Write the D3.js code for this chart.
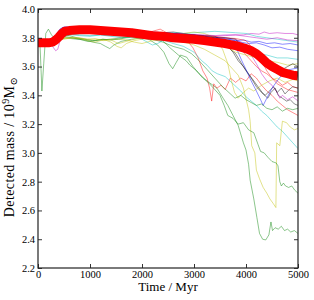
<!DOCTYPE html>
<html>
<head>
<meta charset="utf-8">
<script src="https://cdn.jsdelivr.net/npm/d3@7"></script>
<style>
  body { margin: 0; background: #fff; }
  text { font-family: "Liberation Serif", "DejaVu Serif", serif; fill: #000; }
</style>
</head>
<body>
<svg id="chart" width="314" height="300"></svg>
<script>
// tick labels
var xTicks = [0, 1000, 2000, 3000, 4000, 5000];
var yTicks = [2.2, 2.4, 2.6, 2.8, 3.0, 3.2, 3.4, 3.6, 3.8, 4.0];

// one run per galaxy: [time in Myr, detected mass in 1e9 Msun]
var run01 = [[0,3.77],[80,3.76],[160,3.775],[260,3.77],[340,3.80],[420,3.86],[500,3.875],[650,3.87],[800,3.865],[1000,3.86],[1200,3.86],[1400,3.855],[1600,3.85],[1800,3.845],[2000,3.84],[2200,3.835],[2400,3.83],[2600,3.825],[2800,3.82],[3000,3.815],[3200,3.80],[3400,3.805],[3600,3.795],[3800,3.78],[3950,3.785],[4100,3.77],[4250,3.775],[4400,3.76],[4550,3.765],[4700,3.755],[4850,3.76],[5000,3.75]];
var run02 = [[0,3.77],[40,3.74],[75,3.43],[110,3.62],[150,3.83],[200,3.86],[260,3.82],[330,3.79],[420,3.785],[520,3.80],[620,3.795],[750,3.79],[900,3.785],[1050,3.77],[1200,3.76],[1300,3.74],[1380,3.725],[1460,3.75],[1600,3.775],[1800,3.79],[2000,3.80],[2150,3.785],[2300,3.75],[2420,3.70],[2520,3.62],[2590,3.585],[2660,3.63],[2740,3.68],[2860,3.665],[2980,3.60],[3100,3.55],[3250,3.50],[3440,3.45],[3560,3.38],[3650,3.33],[3750,3.26],[3850,3.19],[3950,3.07],[4000,3.02],[4050,2.92],[4080,2.81],[4150,2.68],[4210,2.55],[4260,2.44],[4320,2.40],[4380,2.395],[4440,2.43],[4480,2.52],[4510,2.46],[4560,2.48],[4620,2.47],[4680,2.49],[4740,2.46],[4800,2.47],[4860,2.45],[4930,2.46],[5000,2.44]];
var run03 = [[0,3.775],[100,3.77],[200,3.765],[300,3.78],[400,3.83],[480,3.865],[600,3.87],[800,3.865],[1000,3.86],[1200,3.855],[1400,3.86],[1600,3.85],[1800,3.845],[2000,3.84],[2200,3.845],[2350,3.86],[2500,3.83],[2700,3.82],[2850,3.79],[2980,3.73],[3080,3.66],[3170,3.57],[3250,3.52],[3300,3.45],[3340,3.36],[3380,3.48],[3440,3.45],[3520,3.47],[3600,3.44],[3700,3.52],[3800,3.49],[3900,3.52],[4000,3.50],[4100,3.55],[4200,3.52],[4300,3.47],[4400,3.43],[4500,3.40],[4600,3.36],[4700,3.33],[4800,3.30],[4900,3.28],[5000,3.26]];
var run04 = [[0,3.77],[100,3.76],[200,3.775],[300,3.78],[400,3.80],[500,3.815],[650,3.82],[800,3.815],[1000,3.81],[1200,3.82],[1400,3.81],[1600,3.80],[1800,3.805],[2000,3.80],[2200,3.79],[2400,3.785],[2600,3.76],[2800,3.74],[3000,3.70],[3150,3.64],[3250,3.61],[3350,3.57],[3450,3.55],[3600,3.53],[3750,3.48],[3900,3.43],[4000,3.39],[4100,3.36],[4200,3.33],[4300,3.29],[4400,3.26],[4500,3.22],[4600,3.18],[4700,3.15],[4800,3.11],[4900,3.07],[5000,3.03]];
var run05 = [[0,3.77],[100,3.77],[200,3.765],[280,3.74],[340,3.71],[380,3.72],[440,3.80],[520,3.86],[650,3.865],[800,3.86],[1000,3.86],[1200,3.855],[1400,3.85],[1600,3.85],[1800,3.845],[2000,3.84],[2200,3.835],[2400,3.83],[2600,3.83],[2800,3.825],[3000,3.82],[3200,3.815],[3400,3.81],[3600,3.815],[3800,3.82],[3950,3.82],[4100,3.83],[4250,3.825],[4350,3.84],[4450,3.83],[4600,3.835],[4750,3.83],[4900,3.83],[5000,3.82]];
var run06 = [[0,3.77],[100,3.77],[200,3.775],[300,3.78],[400,3.79],[500,3.80],[650,3.80],[800,3.795],[950,3.79],[1100,3.785],[1250,3.79],[1400,3.77],[1520,3.74],[1600,3.73],[1700,3.76],[1850,3.78],[2000,3.79],[2200,3.80],[2400,3.80],[2600,3.79],[2800,3.77],[3000,3.75],[3200,3.72],[3400,3.68],[3600,3.64],[3750,3.58],[3850,3.54],[3950,3.45],[4050,3.30],[4080,3.22],[4110,3.05],[4170,3.00],[4200,2.88],[4260,2.82],[4330,2.76],[4400,2.72],[4460,2.68],[4520,2.65],[4575,2.62],[4590,3.07],[4650,3.05],[4700,3.22],[4780,3.21],[4850,3.18],[4930,3.16],[5000,3.17]];
var run07 = [[0,3.77],[100,3.765],[200,3.77],[300,3.775],[400,3.82],[500,3.855],[650,3.86],[800,3.86],[1000,3.855],[1200,3.85],[1400,3.85],[1600,3.845],[1800,3.84],[2000,3.835],[2200,3.83],[2400,3.835],[2600,3.84],[2800,3.83],[3000,3.82],[3200,3.80],[3400,3.79],[3600,3.76],[3750,3.70],[3850,3.64],[3950,3.60],[4050,3.55],[4150,3.50],[4250,3.45],[4330,3.41],[4420,3.38],[4480,3.42],[4560,3.45],[4620,3.40],[4700,3.38],[4780,3.36],[4850,3.37],[4930,3.34],[5000,3.33]];
var run08 = [[0,3.765],[100,3.77],[200,3.77],[300,3.78],[380,3.84],[460,3.87],[560,3.875],[700,3.87],[900,3.865],[1100,3.86],[1300,3.855],[1500,3.85],[1700,3.845],[1900,3.84],[2100,3.835],[2300,3.83],[2500,3.83],[2700,3.82],[2900,3.815],[3100,3.81],[3300,3.80],[3500,3.79],[3700,3.785],[3900,3.77],[4050,3.76],[4200,3.765],[4350,3.75],[4500,3.73],[4650,3.735],[4800,3.72],[4900,3.715],[5000,3.71]];
var run09 = [[0,3.775],[100,3.77],[200,3.78],[300,3.79],[400,3.80],[500,3.82],[600,3.815],[750,3.80],[900,3.79],[1050,3.78],[1200,3.785],[1400,3.79],[1600,3.80],[1800,3.81],[2000,3.81],[2200,3.80],[2400,3.78],[2540,3.73],[2700,3.68],[2850,3.64],[2920,3.61],[3050,3.57],[3170,3.52],[3300,3.48],[3400,3.44],[3500,3.40],[3580,3.33],[3650,3.26],[3750,3.24],[3850,3.20],[3950,3.21],[4050,3.16],[4150,3.14],[4230,3.06],[4280,3.01],[4350,3.00],[4420,2.97],[4500,2.94],[4580,2.93],[4615,2.91],[4650,2.80],[4680,2.77],[4720,2.79],[4760,2.77],[4820,2.76],[4880,2.77],[4940,2.74],[5000,2.72]];
var run10 = [[0,3.77],[100,3.775],[200,3.77],[300,3.77],[400,3.80],[500,3.85],[600,3.86],[800,3.865],[1000,3.86],[1200,3.86],[1400,3.855],[1600,3.85],[1800,3.85],[2000,3.845],[2200,3.84],[2400,3.835],[2600,3.83],[2800,3.82],[3000,3.81],[3200,3.80],[3400,3.79],[3600,3.78],[3750,3.76],[3900,3.72],[4000,3.68],[4100,3.64],[4200,3.60],[4300,3.57],[4400,3.55],[4500,3.52],[4600,3.50],[4700,3.47],[4800,3.49],[4900,3.46],[5000,3.45]];
var run11 = [[0,3.77],[100,3.77],[200,3.77],[300,3.78],[400,3.81],[500,3.84],[600,3.845],[800,3.84],[1000,3.845],[1200,3.84],[1400,3.835],[1600,3.84],[1800,3.835],[2000,3.83],[2200,3.825],[2400,3.83],[2600,3.835],[2800,3.83],[3000,3.835],[3200,3.84],[3400,3.845],[3600,3.84],[3800,3.835],[4000,3.83],[4200,3.81],[4400,3.80],[4600,3.79],[4800,3.78],[5000,3.77]];
var run12 = [[0,3.775],[100,3.77],[200,3.77],[300,3.775],[400,3.81],[500,3.855],[650,3.86],[800,3.865],[1000,3.86],[1200,3.855],[1400,3.85],[1600,3.85],[1800,3.845],[2000,3.84],[2200,3.835],[2400,3.83],[2600,3.83],[2800,3.82],[3000,3.815],[3200,3.81],[3400,3.80],[3600,3.80],[3800,3.79],[3900,3.77],[4000,3.73],[4100,3.68],[4200,3.62],[4300,3.55],[4400,3.50],[4500,3.47],[4600,3.42],[4650,3.38],[4700,3.40],[4800,3.37],[4900,3.39],[5000,3.36]];
var run13 = [[0,3.77],[100,3.77],[200,3.78],[300,3.785],[400,3.79],[500,3.79],[650,3.80],[800,3.795],[950,3.78],[1100,3.77],[1250,3.785],[1400,3.79],[1550,3.79],[1700,3.785],[1850,3.77],[2000,3.76],[2200,3.78],[2400,3.79],[2600,3.81],[2800,3.83],[3000,3.84],[3200,3.83],[3400,3.80],[3550,3.72],[3650,3.62],[3720,3.50],[3780,3.42],[3850,3.38],[3950,3.42],[4050,3.45],[4150,3.43],[4300,3.47],[4450,3.50],[4600,3.52],[4750,3.49],[4900,3.51],[5000,3.50]];
var run14 = [[0,3.77],[100,3.77],[200,3.775],[300,3.78],[400,3.82],[500,3.86],[650,3.865],[800,3.86],[1000,3.86],[1200,3.855],[1400,3.85],[1600,3.845],[1800,3.84],[2000,3.835],[2200,3.83],[2400,3.83],[2600,3.83],[2800,3.825],[3000,3.82],[3200,3.815],[3400,3.81],[3500,3.79],[3600,3.76],[3700,3.72],[3800,3.69],[3900,3.63],[4000,3.57],[4100,3.52],[4200,3.46],[4300,3.42],[4370,3.40],[4450,3.43],[4530,3.46],[4600,3.42],[4680,3.45],[4750,3.41],[4830,3.44],[4900,3.46],[5000,3.45]];
var run15 = [[0,3.77],[100,3.775],[200,3.77],[300,3.78],[400,3.83],[500,3.87],[650,3.87],[800,3.865],[1000,3.86],[1200,3.86],[1400,3.855],[1600,3.85],[1800,3.845],[2000,3.84],[2200,3.84],[2400,3.835],[2600,3.83],[2800,3.825],[3000,3.82],[3200,3.81],[3400,3.80],[3600,3.79],[3700,3.77],[3800,3.74],[3920,3.64],[4000,3.58],[4100,3.50],[4200,3.43],[4280,3.37],[4330,3.33],[4400,3.38],[4500,3.45],[4600,3.50],[4750,3.57],[4850,3.58],[5000,3.59]];
var run16 = [[0,3.77],[100,3.775],[200,3.78],[300,3.78],[400,3.79],[500,3.81],[650,3.80],[800,3.79],[950,3.775],[1100,3.78],[1250,3.79],[1400,3.785],[1550,3.79],[1700,3.80],[1850,3.805],[2000,3.80],[2200,3.79],[2400,3.77],[2600,3.74],[2800,3.72],[2950,3.69],[3100,3.64],[3250,3.58],[3400,3.52],[3550,3.46],[3700,3.41],[3790,3.38],[3900,3.40],[4000,3.37],[4100,3.35],[4200,3.33],[4300,3.34],[4400,3.31],[4500,3.30],[4600,3.32],[4700,3.29],[4800,3.31],[4900,3.30],[5000,3.31]];
var run17 = [[0,3.77],[100,3.77],[200,3.765],[300,3.775],[400,3.815],[500,3.86],[650,3.865],[800,3.86],[1000,3.86],[1200,3.855],[1400,3.855],[1600,3.85],[1800,3.845],[2000,3.84],[2200,3.84],[2400,3.835],[2600,3.83],[2800,3.825],[3000,3.82],[3200,3.815],[3400,3.81],[3600,3.80],[3800,3.795],[4000,3.78],[4100,3.74],[4200,3.70],[4300,3.64],[4400,3.57],[4500,3.52],[4600,3.48],[4700,3.46],[4800,3.44],[4900,3.43],[5000,3.42]];
var run18 = [[0,3.77],[100,3.77],[200,3.775],[300,3.78],[400,3.80],[500,3.82],[650,3.825],[800,3.82],[1000,3.815],[1200,3.82],[1400,3.815],[1600,3.81],[1800,3.81],[2000,3.79],[2100,3.77],[2200,3.75],[2300,3.76],[2400,3.78],[2600,3.80],[2800,3.81],[3000,3.80],[3200,3.78],[3400,3.75],[3600,3.74],[3800,3.72],[4000,3.70],[4200,3.69],[4400,3.68],[4600,3.66],[4800,3.66],[5000,3.65]];
var run19 = [[0,3.77],[100,3.775],[200,3.77],[300,3.78],[400,3.82],[500,3.86],[650,3.86],[800,3.86],[1000,3.855],[1200,3.85],[1400,3.85],[1600,3.845],[1800,3.84],[2000,3.84],[2200,3.835],[2400,3.83],[2600,3.83],[2800,3.825],[3000,3.82],[3200,3.82],[3400,3.815],[3600,3.82],[3800,3.82],[4000,3.81],[4200,3.80],[4400,3.79],[4600,3.80],[4800,3.785],[5000,3.78]];
var run20 = [[0,3.775],[100,3.77],[200,3.775],[300,3.78],[400,3.785],[500,3.795],[650,3.80],[800,3.80],[950,3.79],[1100,3.795],[1250,3.78],[1400,3.785],[1550,3.76],[1700,3.775],[1850,3.79],[2000,3.80],[2200,3.81],[2400,3.82],[2600,3.815],[2800,3.81],[3000,3.80],[3200,3.78],[3400,3.76],[3600,3.74],[3800,3.70],[4000,3.68],[4200,3.66],[4400,3.64],[4600,3.63],[4800,3.61],[5000,3.62]];
var run21 = [[0,3.77],[100,3.77],[200,3.77],[300,3.775],[400,3.81],[500,3.85],[650,3.855],[800,3.85],[1000,3.85],[1200,3.845],[1400,3.845],[1600,3.84],[1800,3.84],[2000,3.835],[2200,3.83],[2400,3.83],[2600,3.825],[2800,3.82],[3000,3.815],[3200,3.81],[3400,3.80],[3600,3.80],[3800,3.79],[3900,3.75],[4000,3.72],[4100,3.68],[4200,3.66],[4300,3.63],[4400,3.60],[4500,3.58],[4600,3.61],[4700,3.58],[4800,3.60],[4900,3.62],[5000,3.60]];
var runs = [run01, run02, run03, run04, run05, run06, run07, run08, run09, run10, run11, run12, run13, run14, run15, run16, run17, run18, run19, run20, run21];

// the thick red curve drawn over the runs
var medianRun = [[0,3.765],[100,3.765],[200,3.765],[280,3.77],[340,3.785],[400,3.805],[460,3.83],[520,3.845],[600,3.85],[800,3.855],[1000,3.855],[1200,3.85],[1400,3.845],[1600,3.84],[1800,3.835],[2000,3.825],[2200,3.815],[2400,3.81],[2600,3.80],[2800,3.795],[3000,3.79],[3200,3.78],[3400,3.77],[3600,3.76],[3800,3.745],[4000,3.725],[4100,3.71],[4200,3.69],[4300,3.66],[4400,3.625],[4500,3.60],[4600,3.58],[4700,3.56],[4800,3.55],[4900,3.54],[5000,3.535]];

// matplotlib classic colour cycle
var cycle = ['#0000ff', '#008000', '#ff0000', '#00bfbf', '#bf00bf', '#bfbf00', '#000000'];

var margin = {top: 9, right: 16, bottom: 32, left: 38};
var W = 314, H = 300;
var w = W - margin.left - margin.right;
var h = H - margin.top - margin.bottom;

var svg = d3.select('#chart');
var g = svg.append('g').attr('transform', 'translate(' + margin.left + ',' + margin.top + ')');

var x = d3.scaleLinear().domain([0, 5000]).range([0, w]);
var y = d3.scaleLinear().domain([2.2, 4.0]).range([h, 0]);

g.append('clipPath').attr('id', 'clip')
  .append('rect').attr('width', w).attr('height', h);

var line = d3.line()
  .x(function(d){ return x(d[0]); })
  .y(function(d){ return y(d[1]); });

var plot = g.append('g').attr('clip-path', 'url(#clip)');

plot.selectAll('path.run')
  .data(runs)
  .enter()
  .append('path')
  .attr('class', 'run')
  .attr('d', line)
  .attr('fill', 'none')
  .attr('stroke', function(d, i){ return cycle[i % cycle.length]; })
  .attr('stroke-opacity', 0.45)
  .attr('stroke-width', 1);

plot.append('path')
  .datum(medianRun)
  .attr('d', line)
  .attr('fill', 'none')
  .attr('stroke', '#ff0000')
  .attr('stroke-width', 9)
  .attr('stroke-linejoin', 'round');

// axes, ticks pointing inward on all four sides
var fs = 10.5;
var axBottom = g.append('g').attr('transform', 'translate(0,' + h + ')')
  .call(d3.axisBottom(x).tickValues(xTicks).tickFormat(d3.format('d')).tickSize(-4).tickPadding(3));
var axLeft = g.append('g')
  .call(d3.axisLeft(y).tickValues(yTicks).tickFormat(d3.format('.1f')).tickSize(-4).tickPadding(3));
var axTop = g.append('g')
  .call(d3.axisTop(x).tickValues(xTicks).tickFormat('').tickSize(-4));
var axRight = g.append('g').attr('transform', 'translate(' + w + ',0)')
  .call(d3.axisRight(y).tickValues(yTicks).tickFormat('').tickSize(-4));

[axBottom, axLeft, axTop, axRight].forEach(function(a){
  a.select('.domain').remove();
  a.selectAll('line').attr('stroke', '#000').attr('stroke-width', 0.8);
  a.selectAll('text').attr('font-size', fs).attr('font-family', '"Liberation Serif", serif');
});

g.append('rect')
  .attr('width', w).attr('height', h)
  .attr('fill', 'none')
  .attr('stroke', '#222')
  .attr('stroke-width', 1.2);

// axis titles
svg.append('text')
  .attr('x', margin.left + w / 2).attr('y', 291)
  .attr('text-anchor', 'middle')
  .attr('font-size', 13)
  .text('Time / Myr');

var yl = svg.append('text')
  .attr('transform', 'translate(14,147) rotate(-90)')
  .attr('text-anchor', 'middle')
  .attr('font-size', 14)
  .attr('letter-spacing', 0.4);
yl.append('tspan').text('Detected mass / 10');
yl.append('tspan').attr('dy', -5).attr('font-size', 10).text('9');
yl.append('tspan').attr('dy', 5).text('M');
yl.append('tspan').attr('dy', 3).attr('font-size', 10).text('\u2299');
</script>
</body>
</html>
